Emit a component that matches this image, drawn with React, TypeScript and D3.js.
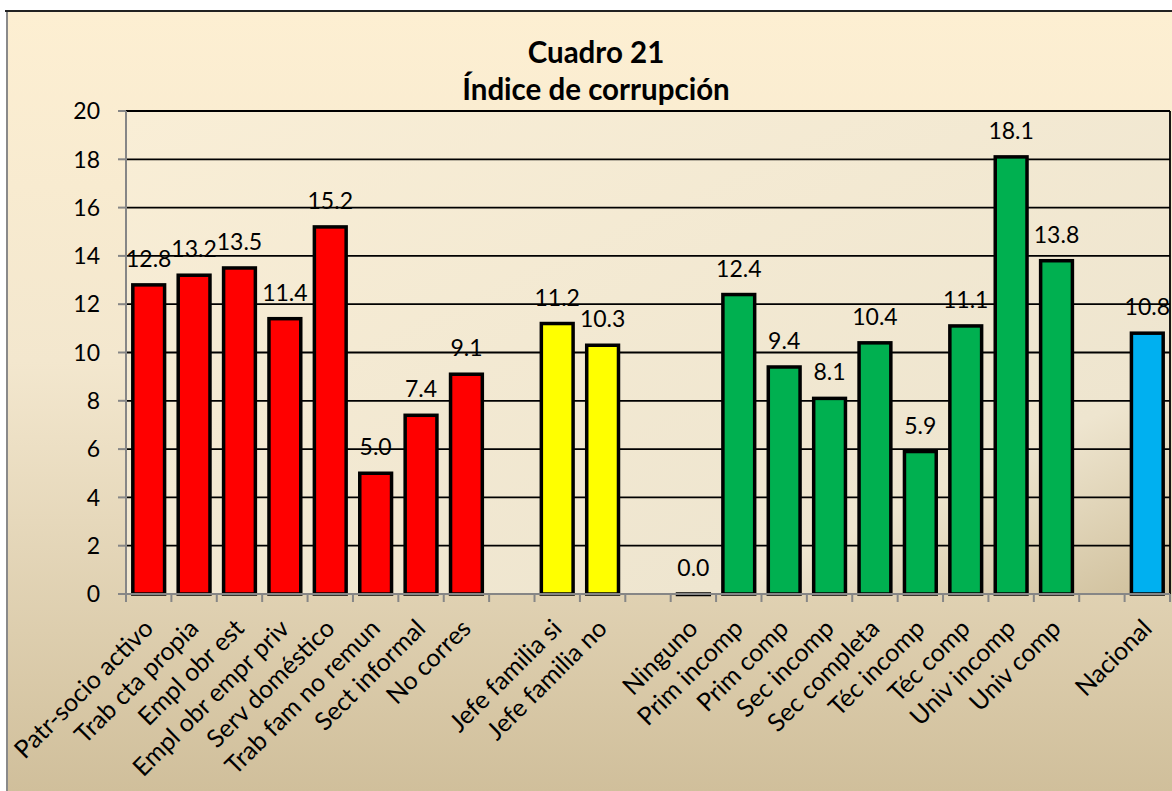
import React from "react";
import * as d3 from "d3";

const categories: string[] = [
  "Patr-socio activo", "Trab cta propia", "Empl obr est", "Empl obr empr priv",
  "Serv doméstico", "Trab fam no remun", "Sect informal", "No corres", "",
  "Jefe familia si", "Jefe familia no", "",
  "Ninguno", "Prim incomp", "Prim comp", "Sec incomp", "Sec completa",
  "Téc incomp", "Téc comp", "Univ incomp", "Univ comp", "", "Nacional",
];
const values: (number | null)[] = [
  12.8, 13.2, 13.5, 11.4, 15.2, 5.0, 7.4, 9.1, null,
  11.2, 10.3, null,
  0.0, 12.4, 9.4, 8.1, 10.4, 5.9, 11.1, 18.1, 13.8, null, 10.8,
];
const groups: string[] = [
  "ocup", "ocup", "ocup", "ocup", "ocup", "ocup", "ocup", "ocup", "",
  "jefe", "jefe", "",
  "educ", "educ", "educ", "educ", "educ", "educ", "educ", "educ", "educ", "", "nac",
];
const groupColors: Record<string, string> = {
  ocup: "#FF0000",
  jefe: "#FFFF00",
  educ: "#00B050",
  nac: "#00B0F0",
};
const yTicks: number[] = [0, 2, 4, 6, 8, 10, 12, 14, 16, 18, 20];
const titleLines: string[] = ["Cuadro 21", "Índice de corrupción"];

const W = 1172;
const H = 791;
const plot = { left: 126, right: 1170, top: 111, bottom: 594 };
const FONT = "Lato, 'Open Sans', sans-serif";

export default function App() {
  const idx = categories.map((_, i) => String(i));
  const x = d3.scaleBand<string>().domain(idx).range([plot.left, plot.right]).paddingInner(0.3).paddingOuter(0.15);
  const xb = d3.scaleLinear().domain([0, categories.length]).range([plot.left, plot.right]);
  const y = d3.scaleLinear().domain([0, 20]).range([plot.bottom, plot.top]);
  const bw = x.bandwidth();

  return (
    <svg width={W} height={H} style={{ position: "absolute", left: 0, top: 0 }} fontFamily={FONT}>
      <defs>
        <linearGradient id="chartBg" x1="0" y1="0" x2="0" y2="1">
          <stop offset="0" stopColor="#FDEFD2" />
          <stop offset="0.45" stopColor="#F3E7CE" />
          <stop offset="1" stopColor="#D0BF9B" />
        </linearGradient>
        <linearGradient id="plotBg" x1="0" y1="0" x2="1" y2="1">
          <stop offset="0" stopColor="#F9EED6" />
          <stop offset="0.78" stopColor="#EEE5CF" />
          <stop offset="1" stopColor="#CFBF9B" />
        </linearGradient>
      </defs>
      <rect x={0} y={0} width={W} height={H} fill="#FFFFFF" />
      <rect x={7} y={11} width={W - 7} height={H - 11} fill="url(#chartBg)" />
      <line x1={7} y1={11} x2={7} y2={H} stroke="#8A8A8A" strokeWidth={2} />
      <line x1={5} y1={11} x2={W} y2={11} stroke="#222" strokeWidth={2} />

      {titleLines.map((t, i) => (
        <text key={t} x={596} y={63 + i * 37} textAnchor="middle" fontWeight="bold" fontSize={29.5} fill="#000">
          {t}
        </text>
      ))}

      <rect x={plot.left} y={plot.top} width={plot.right - plot.left} height={plot.bottom - plot.top} fill="url(#plotBg)" />
      {yTicks.map((t) => (
        <line key={"g" + t} x1={plot.left} x2={plot.right} y1={y(t)} y2={y(t)} stroke="#000" strokeWidth={1.8} />
      ))}
      <line x1={plot.right} x2={plot.right} y1={plot.top} y2={plot.bottom} stroke="#000" strokeWidth={1.8} />

      {/* y axis */}
      <line x1={plot.left} x2={plot.left} y1={plot.top} y2={plot.bottom} stroke="#868686" strokeWidth={2} />
      {yTicks.map((t) => (
        <g key={"yt" + t}>
          <line x1={plot.left - 8} x2={plot.left} y1={y(t)} y2={y(t)} stroke="#868686" strokeWidth={2} />
          <text x={100} y={y(t)} dy="0.36em" textAnchor="end" fontSize={23} fill="#000">
            {t}
          </text>
        </g>
      ))}

      {/* bars */}
      {values.map((v, i) =>
        v === null ? null : (
          <rect
            key={"b" + i}
            x={x(String(i))!}
            y={y(v)}
            width={bw}
            height={Math.max(y(0) - y(v), 0.5)}
            fill={groupColors[groups[i]]}
            stroke="#000"
            strokeWidth={3.5}
          />
        )
      )}

      {/* x axis */}
      <line x1={plot.left - 8} x2={plot.right} y1={plot.bottom} y2={plot.bottom} stroke="#868686" strokeWidth={2} />
      {d3.range(categories.length + 1).map((k) => (
        <line key={"xt" + k} x1={xb(k)} x2={xb(k)} y1={plot.bottom} y2={plot.bottom + 8} stroke="#868686" strokeWidth={2} />
      ))}

      {/* value labels */}
      {values.map((v, i) =>
        v === null ? null : (
          <text key={"v" + i} x={x(String(i))! + bw / 2} y={y(v) - 18} textAnchor="middle" fontSize={23} fill="#000">
            {v.toFixed(1)}
          </text>
        )
      )}

      {/* category labels */}
      {categories.map((c, i) =>
        c === "" ? null : (
          <text
            key={"c" + i}
            transform={`translate(${x(String(i))! + bw / 2 + 6},${630}) rotate(-45)`}
            textAnchor="end"
            fontSize={25}
            fill="#000"
          >
            {c}
          </text>
        )
      )}
    </svg>
  );
}
